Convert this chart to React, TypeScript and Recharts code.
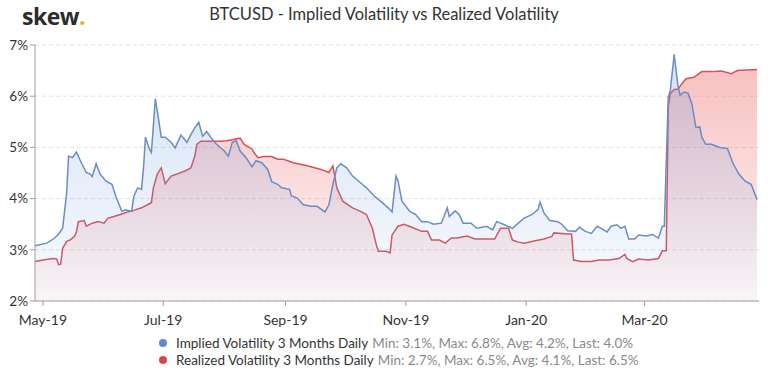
import { AreaChart, Area, XAxis, YAxis, CartesianGrid } from "recharts";

const ivDates = [
  "2019-04-27", "2019-05-03", "2019-05-07", "2019-05-09", "2019-05-11", "2019-05-13", "2019-05-14", "2019-05-16",
  "2019-05-18", "2019-05-20", "2019-05-23", "2019-05-25", "2019-05-26", "2019-05-28", "2019-05-30", "2019-06-02",
  "2019-06-05", "2019-06-07", "2019-06-10", "2019-06-12", "2019-06-15", "2019-06-16", "2019-06-18", "2019-06-20",
  "2019-06-21", "2019-06-22", "2019-06-24", "2019-06-25", "2019-06-27", "2019-06-29", "2019-06-30", "2019-07-02",
  "2019-07-05", "2019-07-07", "2019-07-10", "2019-07-13", "2019-07-15", "2019-07-17", "2019-07-19", "2019-07-21",
  "2019-07-23", "2019-07-26", "2019-07-28", "2019-08-01", "2019-08-03", "2019-08-05", "2019-08-07", "2019-08-09",
  "2019-08-12", "2019-08-15", "2019-08-17", "2019-08-20", "2019-08-23", "2019-08-25", "2019-08-28", "2019-08-30",
  "2019-09-03", "2019-09-04", "2019-09-07", "2019-09-10", "2019-09-14", "2019-09-17", "2019-09-21", "2019-09-23",
  "2019-09-25", "2019-09-27", "2019-09-29", "2019-10-02", "2019-10-05", "2019-10-09", "2019-10-12", "2019-10-16",
  "2019-10-20", "2019-10-23", "2019-10-25", "2019-10-27", "2019-10-28", "2019-10-30", "2019-11-03", "2019-11-06",
  "2019-11-09", "2019-11-12", "2019-11-15", "2019-11-19", "2019-11-22", "2019-11-23", "2019-11-26", "2019-11-28",
  "2019-11-30", "2019-12-04", "2019-12-07", "2019-12-12", "2019-12-15", "2019-12-17", "2019-12-21", "2019-12-25",
  "2019-12-28", "2019-12-31", "2020-01-04", "2020-01-07", "2020-01-08", "2020-01-10", "2020-01-13", "2020-01-17",
  "2020-01-19", "2020-01-22", "2020-01-26", "2020-01-28", "2020-01-31", "2020-02-03", "2020-02-06", "2020-02-08",
  "2020-02-11", "2020-02-13", "2020-02-16", "2020-02-18", "2020-02-20", "2020-02-22", "2020-02-25", "2020-02-27",
  "2020-03-02", "2020-03-05", "2020-03-08", "2020-03-10", "2020-03-11", "2020-03-13", "2020-03-14", "2020-03-16",
  "2020-03-18", "2020-03-19", "2020-03-21", "2020-03-23", "2020-03-25", "2020-03-27", "2020-03-29", "2020-03-30",
  "2020-04-01", "2020-04-04", "2020-04-08", "2020-04-12", "2020-04-15", "2020-04-18", "2020-04-21", "2020-04-24",
  "2020-04-27",
];
const ivValues = [
  3.08, 3.13, 3.23, 3.31, 3.42, 4.09, 4.83, 4.8,
  4.91, 4.74, 4.51, 4.48, 4.43, 4.68, 4.48, 4.34,
  4.28, 4.04, 3.75, 3.78, 3.75, 4.03, 4.21, 4.18,
  4.6, 5.2, 4.97, 4.9, 5.95, 5.46, 5.2, 5.2,
  5.1, 4.99, 5.24, 5.1, 5.25, 5.38, 5.49, 5.22,
  5.31, 5.15, 5.06, 4.93, 4.83, 5.1, 5.13, 4.93,
  4.8, 4.62, 4.74, 4.7, 4.57, 4.33, 4.28, 4.21,
  4.18, 4.05, 4.01, 3.88, 3.85, 3.85, 3.74, 3.88,
  4.28, 4.6, 4.68, 4.6, 4.44, 4.31, 4.21, 4.05,
  3.92, 3.82, 3.74, 4.44, 4.35, 3.95, 3.75, 3.69,
  3.55, 3.55, 3.5, 3.52, 3.82, 3.65, 3.76, 3.69,
  3.52, 3.52, 3.42, 3.46, 3.39, 3.55, 3.49, 3.42,
  3.52, 3.62, 3.69, 3.79, 3.93, 3.72, 3.57, 3.55,
  3.5, 3.37, 3.36, 3.44, 3.36, 3.32, 3.46, 3.42,
  3.35, 3.46, 3.49, 3.42, 3.46, 3.21, 3.21, 3.29,
  3.27, 3.3, 3.23, 3.46, 3.46, 5.98, 6.1, 6.82,
  6.18, 6.02, 6.08, 6.06, 5.85, 5.39, 5.4, 5.2,
  5.06, 5.06, 5.0, 4.98, 4.67, 4.47, 4.34, 4.28,
  3.98,
];

const rvDates = [
  "2019-04-27", "2019-05-01", "2019-05-06", "2019-05-08", "2019-05-09", "2019-05-10", "2019-05-11", "2019-05-13",
  "2019-05-15", "2019-05-17", "2019-05-18", "2019-05-19", "2019-05-22", "2019-05-23", "2019-05-26", "2019-05-29",
  "2019-06-01", "2019-06-03", "2019-06-06", "2019-06-10", "2019-06-13", "2019-06-16", "2019-06-20", "2019-06-23",
  "2019-06-25", "2019-06-26", "2019-06-28", "2019-06-30", "2019-07-02", "2019-07-05", "2019-07-08", "2019-07-12",
  "2019-07-15", "2019-07-17", "2019-07-18", "2019-07-20", "2019-07-25", "2019-07-30", "2019-08-02", "2019-08-06",
  "2019-08-09", "2019-08-11", "2019-08-15", "2019-08-16", "2019-08-18", "2019-08-21", "2019-08-25", "2019-08-28",
  "2019-08-31", "2019-09-05", "2019-09-12", "2019-09-19", "2019-09-23", "2019-09-25", "2019-09-27", "2019-09-30",
  "2019-10-05", "2019-10-09", "2019-10-12", "2019-10-15", "2019-10-17", "2019-10-18", "2019-10-22", "2019-10-24",
  "2019-10-25", "2019-10-28", "2019-10-31", "2019-11-04", "2019-11-09", "2019-11-12", "2019-11-14", "2019-11-18",
  "2019-11-21", "2019-11-24", "2019-11-27", "2019-12-02", "2019-12-06", "2019-12-11", "2019-12-16", "2019-12-19",
  "2019-12-23", "2019-12-25", "2019-12-28", "2019-12-31", "2020-01-05", "2020-01-10", "2020-01-14", "2020-01-15",
  "2020-01-22", "2020-01-24", "2020-01-25", "2020-01-29", "2020-02-03", "2020-02-07", "2020-02-12", "2020-02-17",
  "2020-02-20", "2020-02-21", "2020-02-24", "2020-02-27", "2020-03-03", "2020-03-08", "2020-03-10", "2020-03-12",
  "2020-03-13", "2020-03-14", "2020-03-16", "2020-03-18", "2020-03-20", "2020-03-22", "2020-03-26", "2020-03-30",
  "2020-04-04", "2020-04-09", "2020-04-14", "2020-04-17", "2020-04-22", "2020-04-27",
];
const rvValues = [
  2.77, 2.8, 2.83, 2.82, 2.71, 2.72, 3.03, 3.16,
  3.2, 3.26, 3.35, 3.55, 3.57, 3.46, 3.52, 3.55,
  3.52, 3.62, 3.65, 3.7, 3.74, 3.77, 3.82, 3.88,
  3.92, 4.21, 4.48, 4.6, 4.29, 4.44, 4.48, 4.54,
  4.6, 4.83, 5.06, 5.12, 5.12, 5.12, 5.13, 5.16,
  5.18, 5.06, 4.97, 4.9, 4.8, 4.82, 4.82, 4.77,
  4.77, 4.7, 4.64, 4.57, 4.51, 4.64, 4.21, 3.95,
  3.82, 3.75, 3.69, 3.42, 3.1, 2.97, 2.97, 2.94,
  3.29, 3.46, 3.5, 3.44, 3.36, 3.36, 3.19, 3.19,
  3.13, 3.23, 3.23, 3.27, 3.21, 3.21, 3.21, 3.42,
  3.42, 3.19, 3.15, 3.13, 3.17, 3.21, 3.26, 3.33,
  3.31, 3.31, 2.8, 2.77, 2.77, 2.8, 2.8, 2.83,
  2.91, 2.83, 2.77, 2.82, 2.8, 2.83, 2.98, 2.98,
  5.79, 6.05, 6.13, 6.14, 6.25, 6.34, 6.37, 6.48,
  6.48, 6.49, 6.44, 6.5, 6.51, 6.52,
];

const xTickDates = ["2019-05-01", "2019-07-01", "2019-09-01", "2019-11-01", "2020-01-01", "2020-03-01"];
const yTicks = [2, 3, 4, 5, 6, 7];
const monthNames = ["Jan", "Feb", "Mar", "Apr", "May", "Jun", "Jul", "Aug", "Sep", "Oct", "Nov", "Dec"];

const ivLabel = "Implied Volatility 3 Months Daily";
const ivStats = "Min: 3.1%, Max: 6.8%, Avg: 4.2%, Last: 4.0%";
const rvLabel = "Realized Volatility 3 Months Daily";
const rvStats = "Min: 2.7%, Max: 6.5%, Avg: 4.1%, Last: 6.5%";

const toTs = (d: string) => {
  const [y, m, dd] = d.split("-").map(Number);
  return Date.UTC(y, m - 1, dd);
};

const ivData = ivDates.map((d, i) => ({ t: toTs(d), iv: ivValues[i] }));
const rvData = rvDates.map((d, i) => ({ t: toTs(d), rv: rvValues[i] }));
const xTicks = xTickDates.map(toTs);

const fmtDate = (ts: number) => {
  const d = new Date(ts);
  return monthNames[d.getUTCMonth()] + "-" + String(d.getUTCFullYear()).slice(2);
};

const font = "Lato, 'Open Sans', sans-serif";

export default function App() {
  return (
    <div style={{ position: "absolute", left: 0, top: 0, width: 768, height: 369, background: "#fff", fontFamily: font }}>
      <div style={{ position: "absolute", left: 22, top: 0, fontFamily: "'Open Sans', sans-serif", fontWeight: 700, fontSize: 23, color: "#2b2b2b", letterSpacing: -0.5 }}>
        skew<span style={{ color: "#e6b12c" }}>.</span>
      </div>
      <div style={{ position: "absolute", left: 0, top: 4, width: 768, textAlign: "center", fontSize: 16.5, color: "#333" }}>
        BTCUSD - Implied Volatility vs Realized Volatility
      </div>
      <AreaChart width={768} height={369} margin={{ top: 45, right: 9, left: 0, bottom: 38 }}>
        <defs>
          <linearGradient id="ivFill" x1="0" y1="0" x2="0" y2="1">
            <stop offset="0%" stopColor="#6f9be0" stopOpacity={0.3} />
            <stop offset="100%" stopColor="#6f9be0" stopOpacity={0.04} />
          </linearGradient>
          <linearGradient id="rvFill" x1="0" y1="0" x2="0" y2="1">
            <stop offset="0%" stopColor="#ee6b6b" stopOpacity={0.42} />
            <stop offset="100%" stopColor="#ee6b6b" stopOpacity={0.04} />
          </linearGradient>
        </defs>
        <CartesianGrid vertical={false} stroke="#e2e2e2" strokeDasharray="4 3" />
        <XAxis
          dataKey="t"
          type="number"
          scale="time"
          domain={[toTs("2019-04-27"), toTs("2020-04-28")]}
          ticks={xTicks}
          tickFormatter={fmtDate}
          allowDataOverflow
          height={30}
          stroke="#a0a0a0"
          tickSize={5}
          tickMargin={9}
          tick={{ fill: "#333", fontSize: 14, fontFamily: font }}
        />
        <YAxis
          type="number"
          domain={[2, 7]}
          ticks={yTicks}
          tickFormatter={(v: number) => v + "%"}
          width={35}
          stroke="#a0a0a0"
          tickSize={5}
          tick={{ fill: "#333", fontSize: 13.5, fontFamily: font }}
        />
        <Area
          data={rvData}
          dataKey="rv"
          type="linear"
          stroke="#d4535a"
          strokeWidth={1.5}
          fill="url(#rvFill)"
          fillOpacity={1}
          isAnimationActive={false}
          dot={false}
          activeDot={false}
        />
        <Area
          data={ivData}
          dataKey="iv"
          type="linear"
          stroke="#6b8cc4"
          strokeWidth={1.5}
          fill="url(#ivFill)"
          fillOpacity={1}
          isAnimationActive={false}
          dot={false}
          activeDot={false}
        />
      </AreaChart>
      <div style={{ position: "absolute", left: 159, top: 335, fontSize: 13.5, lineHeight: "16.5px", whiteSpace: "nowrap" }}>
        {[
          { c: "#5b8bd0", label: ivLabel, stats: ivStats },
          { c: "#d04a4a", label: rvLabel, stats: rvStats },
        ].map((r) => (
          <div key={r.label} style={{ display: "flex", alignItems: "center" }}>
            <span style={{ width: 8, height: 8, borderRadius: 4, background: r.c, marginRight: 9, display: "inline-block" }} />
            <span style={{ color: "#333" }}>{r.label}</span>
            <span style={{ color: "#8a8a8a", marginLeft: 4 }}>{r.stats}</span>
          </div>
        ))}
      </div>
    </div>
  );
}
